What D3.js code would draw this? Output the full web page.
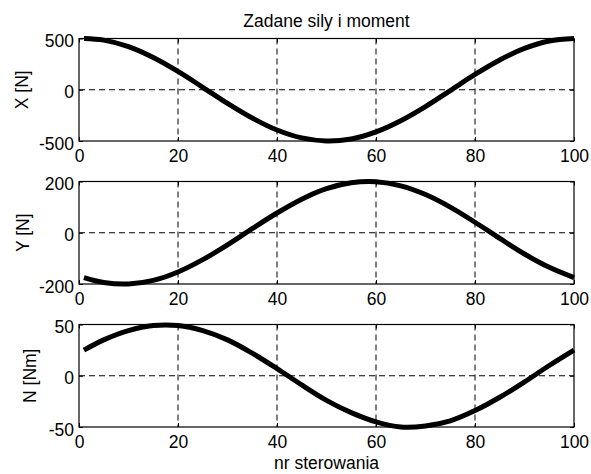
<!DOCTYPE html>
<html>
<head>
<meta charset="utf-8">
<script src="https://cdn.jsdelivr.net/npm/d3@7"></script>
<style>
    html, body { margin: 0; padding: 0; background: #fff; }
    svg { display: block; font-family: "Liberation Sans", Arial, sans-serif; }
    .tick line { stroke: #000; }
    .tick text { font-size: 17.5px; fill: #000; }
</style>
</head>
<body>
<div id="chart"></div>
<script>
const WIDTH = 591;
const HEIGHT = 474;

// step number (nr sterowania)
const steps = [1, 5, 10, 15, 20, 25, 30, 35, 40, 45, 50, 55, 60, 65, 70, 75, 80, 85, 90, 95, 100];

// force X [N]
const forceX = [500, 484, 421, 315, 179, 24, -133, -276, -393, -470, -500, -480, -411, -302, -164, -8, 149, 290, 403, 475, 500];
// force Y [N]
const forceY = [-175, -194, -200, -186, -153, -105, -47, 16, 77, 131, 172, 195, 199, 183, 149, 100, 41, -22, -83, -135, -175];
// moment N [Nm]
const momentN = [25, 35, 44, 49, 49, 44, 35, 22, 7, -9, -24, -36, -45, -50, -49, -44, -34, -21, -6, 10, 25];

const xTicks = [0, 20, 40, 60, 80, 100];
const panelLabels = ["X [N]", "Y [N]", "N [Nm]"];
const panelTicks = [[-500, 0, 500], [-200, 0, 200], [-50, 0, 50]];
const panelSeries = [forceX, forceY, momentN];

const title = "Zadane sily i moment";
const xLabel = "nr sterowania";

const margin = {left: 79, right: 17, top: 38.5};
const panelHeight = 102.5;
const panelStep = 143;
const labelX = [27.5, 29, 36];

const width = WIDTH - margin.left - margin.right;

// plain hyphen for negatives, like the original figure
const fmt = d => String(d);

const svg = d3.select("#chart").append("svg")
    .attr("width", WIDTH)
    .attr("height", HEIGHT);

const x = d3.scaleLinear()
    .domain([0, 100])
    .range([0, width]);

panelSeries.forEach((series, i) => {

    let top = margin.top + i * panelStep;
    let ticks = panelTicks[i];

    let y = d3.scaleLinear()
        .domain([ticks[0], ticks[2]])
        .range([panelHeight, 0]);

    let g = svg.append("g")
        .attr("transform", "translate(" + margin.left + "," + top + ")");

    // grid
    g.selectAll(".gridx")
        .data(xTicks.slice(1, -1))
        .enter().append("line")
        .attr("x1", d => x(d)).attr("x2", d => x(d))
        .attr("y1", 0).attr("y2", panelHeight)
        .attr("stroke", "#000")
        .attr("stroke-width", 1)
        .attr("stroke-dasharray", "6,4");

    g.append("line")
        .attr("x1", 0).attr("x2", width)
        .attr("y1", y(0)).attr("y2", y(0))
        .attr("stroke", "#000")
        .attr("stroke-width", 1)
        .attr("stroke-dasharray", "6,4");

    // axes, ticks pointing inward
    let yAxis = d3.axisLeft(y).tickValues(ticks).tickFormat(fmt).tickSizeInner(-4).tickSizeOuter(0).tickPadding(5);
    let xAxis = d3.axisBottom(x).tickValues(xTicks).tickFormat(fmt).tickSizeInner(-4).tickSizeOuter(0).tickPadding(9);

    let yg = g.append("g").call(yAxis);
    yg.selectAll("text").attr("dy", "0.47em");

    g.append("g")
        .attr("transform", "translate(0," + panelHeight + ")")
        .call(xAxis);

    g.append("g")
        .attr("transform", "translate(" + width + ",0)")
        .call(d3.axisRight(y).tickValues(ticks).tickSizeInner(-4).tickSizeOuter(0).tickFormat(""));

    g.append("g")
        .call(d3.axisTop(x).tickValues(xTicks).tickSizeInner(-4).tickSizeOuter(0).tickFormat(""));

    g.selectAll(".domain").remove();

    // frame
    g.append("rect")
        .attr("width", width)
        .attr("height", panelHeight)
        .attr("fill", "none")
        .attr("stroke", "#000")
        .attr("stroke-width", 1.2);

    // series line
    let line = d3.line()
        .x((d, j) => x(steps[j]))
        .y(d => y(d))
        .curve(d3.curveCatmullRom);

    g.append("path")
        .datum(series)
        .attr("d", line)
        .attr("fill", "none")
        .attr("stroke", "#000")
        .attr("stroke-width", 5)
        .attr("stroke-linejoin", "round");

    // y label
    svg.append("text")
        .attr("transform", "translate(" + labelX[i] + "," + (top + panelHeight / 2) + ") rotate(-90)")
        .attr("text-anchor", "middle")
        .style("font-size", "17.5px")
        .text(panelLabels[i]);
});

svg.append("text")
    .attr("x", margin.left + width / 2)
    .attr("y", 27)
    .attr("text-anchor", "middle")
    .style("font-size", "17.5px")
    .text(title);

svg.append("text")
    .attr("x", margin.left + width / 2)
    .attr("y", 469)
    .attr("text-anchor", "middle")
    .style("font-size", "17.5px")
    .text(xLabel);
</script>
</body>
</html>
